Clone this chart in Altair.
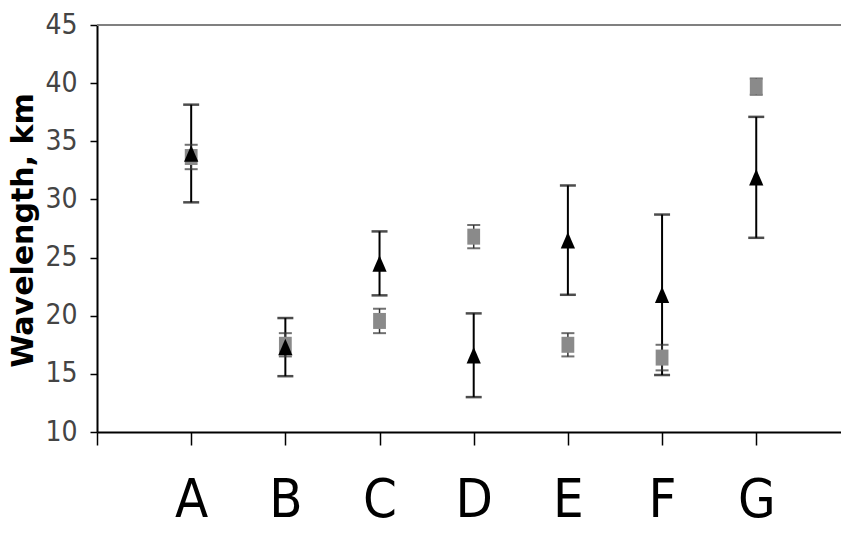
import altair as alt
import pandas as pd

categories = ["A", "B", "C", "D", "E", "F", "G"]
tri_mean = [33.95, 17.3, 24.5, 16.6, 26.5, 21.8, 31.9]
tri_err = [4.2, 2.5, 2.75, 3.6, 4.7, 6.9, 5.2]
sq_mean = [33.65, 17.5, 19.55, 26.8, 17.5, 16.4, 39.7]
sq_err = [1.05, 1.0, 1.05, 1.0, 1.0, 1.1, 0.7]
y_ticks = [10, 15, 20, 25, 30, 35, 40, 45]
top_line = [45]

pos = list(range(1, len(categories) + 1))

tri = pd.DataFrame({
    "cat": categories, "pos": pos, "mean": tri_mean,
    "lo": [m - e for m, e in zip(tri_mean, tri_err)],
    "hi": [m + e for m, e in zip(tri_mean, tri_err)],
})
sq = pd.DataFrame({
    "cat": categories, "pos": pos, "mean": sq_mean,
    "lo": [m - e for m, e in zip(sq_mean, sq_err)],
    "hi": [m + e for m, e in zip(sq_mean, sq_err)],
})

narrow = "Liberation Sans Narrow, DejaVu Sans Condensed, Arial Narrow, sans-serif"

label_list = "[''," + ",".join("'%s'" % c for c in categories) + "]"

X = alt.X(
    "pos:Q",
    scale=alt.Scale(domain=[0, 7.9], nice=False, zero=False),
    axis=alt.Axis(
        values=[0] + pos, labelExpr=label_list + "[datum.value]",
        title=None, grid=False, tickSize=13, tickColor="black", tickWidth=1.5,
        domainColor="black", domainWidth=2, labelFont=narrow, labelFontSize=54,
        labelColor="black", labelPadding=28, labelFlush=False,
    ),
)


def Yenc(field):
    return alt.Y(
        field,
        scale=alt.Scale(domain=[10, 45], nice=False, zero=False),
        axis=alt.Axis(
            values=y_ticks, title="Wavelength, km", grid=False, tickSize=7,
            tickColor="black", tickWidth=1.5, domainColor="black", domainWidth=2,
            labelFont=narrow, labelFontSize=28, labelColor="#444444", labelPadding=13,
            titleFont="DejaVu Sans", titleFontWeight="bold", titleFontSize=30,
            titleColor="black", titleAngle=-90, titleX=-74, titleY=205,
            titleAlign="center", titleBaseline="middle",
        ),
    )


top = alt.Chart(pd.DataFrame({"v": top_line})).mark_rule(
    color="#808080", strokeWidth=2
).encode(y=Yenc("v:Q"), x=alt.value(0), x2=alt.value(744))

sq_rule = alt.Chart(sq).mark_rule(color="#333333", strokeWidth=1.5).encode(
    x=X, y=Yenc("lo:Q"), y2="hi:Q"
)
sq_caps = alt.Chart(sq).transform_fold(["lo", "hi"], as_=["k", "val"]).mark_tick(
    orient="horizontal", size=13, thickness=2, color="#333333"
).encode(x=X, y=Yenc("val:Q"))
sq_pts = alt.Chart(sq).mark_point(
    shape="M-0.8,-1L0.8,-1L0.8,1L-0.8,1Z", size=256, filled=True,
    color="#8a8a8a", opacity=1,
).encode(x=X, y=Yenc("mean:Q"))

tri_rule = alt.Chart(tri).mark_rule(color="black", strokeWidth=2).encode(
    x=X, y=Yenc("lo:Q"), y2="hi:Q"
)
tri_caps = alt.Chart(tri).transform_fold(["lo", "hi"], as_=["k", "val"]).mark_tick(
    orient="horizontal", size=16, thickness=2.5, color="black"
).encode(x=X, y=Yenc("val:Q"))
tri_pts = alt.Chart(tri).mark_point(
    shape="M0,-1.1L-0.95,1.1L0.95,1.1Z", size=225, filled=True,
    color="black", opacity=1,
).encode(x=X, y=Yenc("mean:Q"))

chart = alt.layer(
    top, tri_rule, tri_caps, sq_rule, sq_caps, sq_pts, tri_pts
).properties(
    width=744, height=407,
    padding={"left": 97, "top": 25, "right": 0, "bottom": 104},
    autosize=alt.AutoSizeParams(type="none"),
).configure_view(stroke=None).configure(background="white")

chart.save("out.html", embed_options={"renderer": "svg", "actions": False})
